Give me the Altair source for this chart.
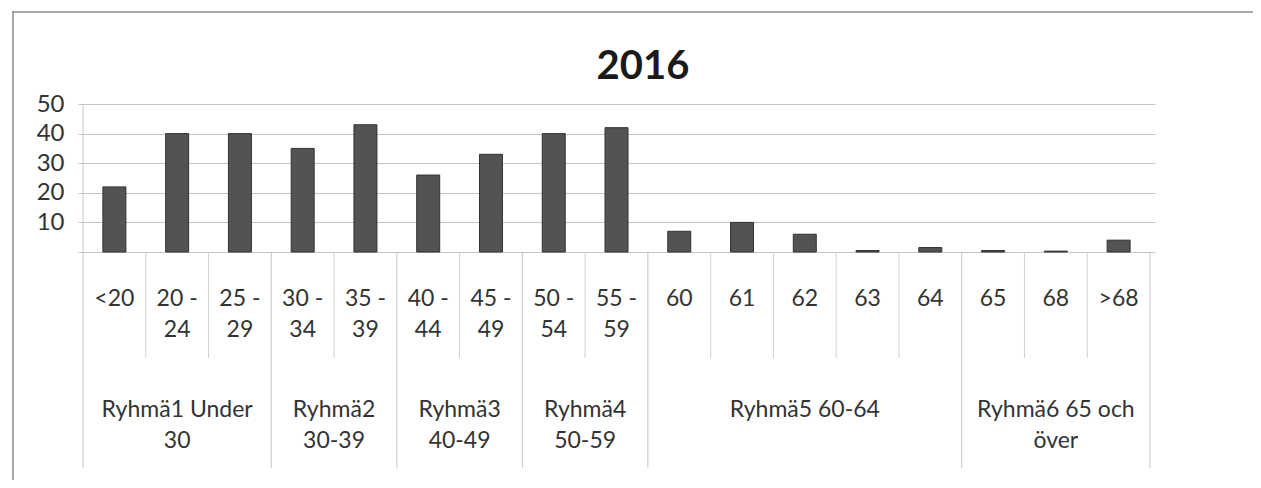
import altair as alt
import pandas as pd

# ---- data ----
categories = ["<20", "20 -\n24", "25 -\n29", "30 -\n34", "35 -\n39", "40 -\n44", "45 -\n49",
              "50 -\n54", "55 -\n59", "60", "61", "62", "63", "64", "65", "68", ">68"]
values = [22, 40, 40, 35, 43, 26, 33, 40, 42, 7, 10, 6, 0.5, 1.5, 0.5, 0.3, 4]
groups = ["Ryhmä1 Under\n30", "Ryhmä2\n30-39", "Ryhmä3\n40-49", "Ryhmä4\n50-59",
          "Ryhmä5 60-64", "Ryhmä6 65 och\növer"]
group_sizes = [3, 2, 2, 2, 5, 3]
title_text = "2016"
y_ticks = [0, 10, 20, 30, 40, 50]

FONT = "Lato"
W, H = 1077, 472

# layout: value 0 sits at pixel 244, value 50 at pixel 96 inside the 472px plot
PX0, PX50 = 244, 96
ppu = (PX0 - PX50) / 50.0
y_dom = [-(H - PX0) / ppu, 50 + PX50 / ppu]

# ---- tables built from the arrays ----
cat_df = pd.DataFrame({
    "label": categories,
    "value": values,
    "pos": [i + 0.5 for i in range(len(categories))],
})

bounds = [0]
for s in group_sizes:
    bounds.append(bounds[-1] + s)
group_df = pd.DataFrame({
    "label": groups,
    "center": [(bounds[i] + bounds[i + 1]) / 2 for i in range(len(groups))],
})
all_bounds = list(range(len(categories) + 1))
minor_df = pd.DataFrame({"b": [b for b in all_bounds if b not in bounds]})
major_df = pd.DataFrame({"b": bounds})
left_df = pd.DataFrame({"b": [0]})
one_df = pd.DataFrame({"t": [title_text]})

xscale = alt.Scale(domain=[0, len(categories)], nice=False, zero=False)
yscale = alt.Scale(domain=y_dom, nice=False, zero=False)

bars = alt.Chart(cat_df).mark_bar(size=23, fill="#535353", stroke="#333333", strokeWidth=1).encode(
    x=alt.X("pos:Q", scale=xscale, axis=None),
    y=alt.Y("value:Q", scale=yscale,
            axis=alt.Axis(values=y_ticks, labelExpr="datum.value == 0 ? '' : datum.label",
                          grid=True, gridColor="#c4c4c4", gridWidth=1, domain=False,
                          ticks=False, labelFontSize=24, labelColor="#333333",
                          labelFont=FONT, labelPadding=14, title=None)),
    y2=alt.datum(0),
)

minor_rules = alt.Chart(minor_df).mark_rule(color="#d0d0d0", strokeWidth=1).encode(
    x=alt.X("b:Q", scale=xscale, axis=None), y=alt.value(PX0), y2=alt.value(350))
major_rules = alt.Chart(major_df).mark_rule(color="#c4c4c4", strokeWidth=1).encode(
    x=alt.X("b:Q", scale=xscale, axis=None), y=alt.value(PX0), y2=alt.value(460))
left_rule = alt.Chart(left_df).mark_rule(color="#c4c4c4", strokeWidth=1).encode(
    x=alt.X("b:Q", scale=xscale, axis=None), y=alt.value(PX50), y2=alt.value(PX0))

cat_text = alt.Chart(cat_df).mark_text(fontSize=23, font=FONT, color="#333333",
                                       lineBreak="\n", lineHeight=31, baseline="alphabetic",
                                       align="center").encode(
    x=alt.X("pos:Q", scale=xscale, axis=None), y=alt.value(298), text="label:N")

grp_text = alt.Chart(group_df).mark_text(fontSize=23, font=FONT, color="#333333",
                                         lineBreak="\n", lineHeight=31, baseline="alphabetic",
                                         align="center").encode(
    x=alt.X("center:Q", scale=xscale, axis=None), y=alt.value(409), text="label:N")

title = alt.Chart(one_df).mark_text(
    fontSize=40, font=FONT, fontWeight="bold", color="#1a1a1a", baseline="alphabetic",
    align="center").encode(x=alt.value(565), y=alt.value(71), text="t:N")

frame_top = alt.Chart(one_df).mark_rule(color="#8a8a8a", strokeWidth=1.5).encode(
    x=alt.value(-65), x2=alt.value(1175), y=alt.value(4))
frame_left = alt.Chart(one_df).mark_rule(color="#8a8a8a", strokeWidth=1.5).encode(
    x=alt.value(-65), y=alt.value(3), y2=alt.value(H))

chart = alt.layer(frame_top, frame_left, minor_rules, major_rules, left_rule, bars,
                  cat_text, grp_text, title).properties(
    width=W, height=H,
    background="white",
    autosize=alt.AutoSizeParams(type="none"),
    padding={"left": 70, "top": 0, "right": 98, "bottom": 0},
).configure_view(stroke=None, strokeWidth=0)

chart.save("out.html", embed_options={"renderer": "svg", "actions": False})
